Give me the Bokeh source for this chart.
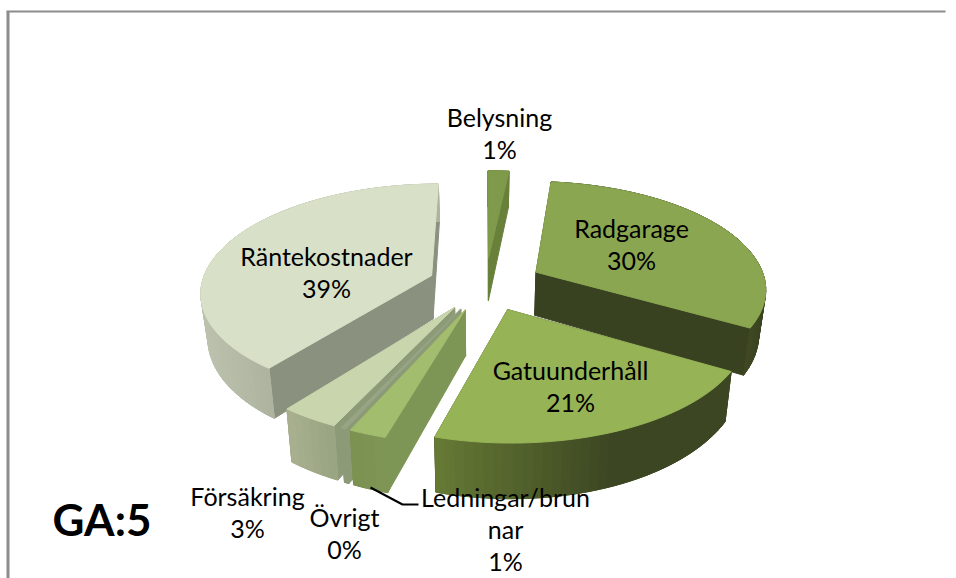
import math
from bokeh.plotting import figure
from bokeh.models import ColumnDataSource
from bokeh.core.properties import value
from bokeh.embed import file_html
from bokeh.resources import INLINE

# ---- data -------------------------------------------------------------
categories = ["Belysning", "Radgarage", "Gatuunderhåll", "Ledningar/brunnar", "Övrigt", "Försäkring", "Räntekostnader"]
shares = [1.7, 31.7, 21.06, 2.21, 0.3, 3.48, 39.55]
percent_labels = ["1%", "30%", "21%", "1%", "0%", "3%", "39%"]
annotation = "GA:5"

# ---- styles
top_colors = ["#7f9a4a", "#8aa650", "#96b356", "#a3bd6f", "#97a585", "#c9d6ad", "#d8e1c8"]
cut_colors = ["#68803a", "#394220", "#3c4622", "#7e9655", "#8d9a78", "#8d9a78", "#8a917f"]
rim_colors = [("#68803a", "#68803a"), ("#3f4923", "#3a4321"), ("#667a35", "#3c4622"),
              ("#7b9150", "#7f9656"), ("#8d9a78", "#8d9a78"), ("#a8b08f", "#98a482"), ("#bcc2ae", "#adb39e")]
rim_ramp = [1, 1, 0.6, 1, 1, 1, 1]

CX, CY = 485.0, 283.5
R, A, P = 230.0, 106.6, 0.1414    # radius, vertical size, perspective
EXPLODE = 0.25
DEPTH, DEPTH_P, BOTTOM_SCALE = 44.0, 0.17, 0.975


def project(u, v, bottom=False):
    w = 1 + P * v
    x = CX + R * u / w
    y = CY - A * v / w
    if bottom:
        x = CX + (x - CX) * BOTTOM_SCALE
        y = y + DEPTH / (1 + DEPTH_P * v)
    return x, y


def mix(c1, c2, t):
    a = [int(c1[i:i + 2], 16) for i in (1, 3, 5)]
    b = [int(c2[i:i + 2], 16) for i in (1, 3, 5)]
    return "#%02x%02x%02x" % tuple(round(a[i] + (b[i] - a[i]) * t) for i in range(3))


p = figure(width=956, height=578, x_range=(0, 956), y_range=(578, 0), output_backend="svg",
           toolbar_location=None, min_border=0)
p.axis.visible = False
p.grid.visible = False
p.outline_line_color = None

xs, ys, fills = [], [], []


def add(poly, color):
    xs.append([q[0] for q in poly])
    ys.append([q[1] for q in poly])
    fills.append(color)


slices = []
total = sum(shares)
a = 0.0
for i, s in enumerate(shares):
    b = a + 360 * s / total
    mid = math.radians((a + b) / 2)
    slices.append((i, a, b, EXPLODE * math.sin(mid), EXPLODE * math.cos(mid)))
    a = b


def rim(s, t):
    r = math.radians(t)
    return s[3] + math.sin(r), s[4] + math.cos(r)


order = [0, 6, 1, 5, 4, 3, 2]
for idx in order:
    s = slices[idx]
    i, a, b, ox, oy = s
    n = max(3, int((b - a) / 2))
    ts = [a + (b - a) * k / n for k in range(n + 1)]
    tip = (ox, oy)
    pts = [rim(s, t) for t in ts]
    sx = [project(*q)[0] for q in pts]
    front = [sx[k] for k in range(n + 1) if math.cos(math.radians(ts[k])) < 0.1] or sx
    lo, hi = min(front), max(front)
    # cut walls
    for t in (a, b):
        e = rim(s, t)
        add([project(*tip), project(*e), project(*e, bottom=True), project(*tip, bottom=True)], cut_colors[i])
    # outer wall: a solid base, then narrow strips shaded from screen left to right
    add([project(*q) for q in pts] + [project(*q, bottom=True) for q in reversed(pts)],
        mix(rim_colors[i][0], rim_colors[i][1], 0.5))
    for k in range(n):
        q0, q1 = pts[k], pts[k + 1]
        t = min(1, max(0, ((sx[k] + sx[k + 1]) / 2 - lo) / max(hi - lo, 1) / rim_ramp[i]))
        add([project(*q0), project(*q1), project(*q1, bottom=True), project(*q0, bottom=True)],
            mix(rim_colors[i][0], rim_colors[i][1], t))
    # top face
    add([project(*tip)] + [project(*q) for q in pts], top_colors[i])

src = ColumnDataSource(dict(xs=xs, ys=ys, c=fills))
p.patches("xs", "ys", source=src, fill_color="c", line_color="c", line_width=1)

# frame
p.line([7.5, 7.5], [578, 11], line_color="#8c8c8c", line_width=3)
p.line([6, 945], [11, 11], line_color="#8c8c8c", line_width=2)

# leader
p.line([370, 402, 418], [487, 504, 504], line_color="#000000", line_width=2)

# texts
lab_x = [499, 631, 570, 505, 344, 247, 326]
lab_y = [116, 227, 369, 496, 516, 495, 255]
FS = "25px"
for i, c in enumerate(categories):
    lines = [c, percent_labels[i]]
    if c.startswith("Ledningar"):
        lines = ["Ledningar/brun", "nar", percent_labels[i]]
    for j, t in enumerate(lines):
        p.text([lab_x[i]], [lab_y[i] + j * 32], text=[t], text_align="center", text_baseline="middle",
               text_font=value("Lato"), text_font_size=FS, text_color="#000000")

p.text([52], [518], text=[annotation], text_align="left", text_baseline="middle",
       text_font=value("Lato"), text_font_style="bold", text_font_size="44px", text_color="#000000")

open("out.html", "w").write(file_html(p, INLINE))
